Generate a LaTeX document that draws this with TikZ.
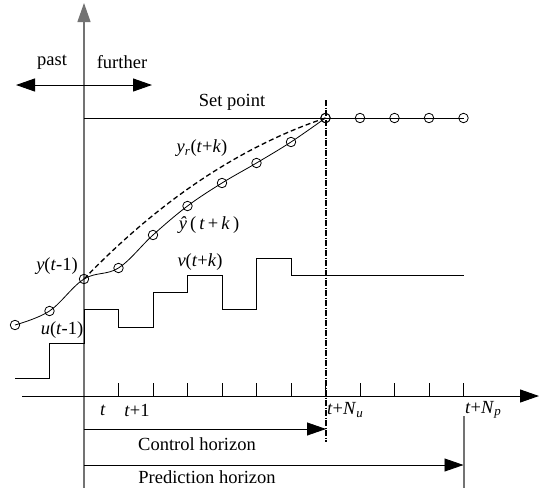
\documentclass[tikz,border=0pt]{standalone}
\usepackage{fontspec}
\setmainfont{Liberation Serif}
\usetikzlibrary{arrows.meta}
\begin{document}
\begin{tikzpicture}[x=1pt,y=-1pt,
  big/.style={-{Triangle[length=19pt,width=13pt]}},
  bigboth/.style={{Triangle[length=19pt,width=13pt]}-{Triangle[length=19pt,width=13pt]}},
  ax/.style={line width=1pt},
  grayax/.style={line width=1.2pt, draw=black!55},
  lbl/.style={font=\fontsize{18.5}{22}\selectfont, inner sep=0pt},
  mk/.style={circle, draw, line width=0.8pt, minimum size=9.5pt, inner sep=0pt},
  thin/.style={line width=0.8pt},
  dashdot/.style={line width=1.5pt, dash pattern=on 6pt off 1.5pt on 1pt off 1.5pt},
]
\useasboundingbox (0,0) rectangle (539,488);
% axes
\coordinate (vtop) at (84,3);
\coordinate (vbot) at (84,488);
\coordinate (hl) at (22,396);
\coordinate (hr) at (539,396);
\draw[grayax,big] (vbot) -- (vtop);
\draw[ax,big] (hl) -- (hr);
\foreach \k in {1,...,11} \draw[thin] (84+34.5*\k,383) -- (84+34.5*\k,396);
% past / further
\coordinate (pl) at (16,85);
\coordinate (pr) at (152,85);
\draw[ax,bigboth] (pl) -- (pr);
\node[lbl] (past) at (52,62) {past};
\node[lbl] (further) at (122,62) {further};
% set point
\coordinate (sp0) at (84,118);
\coordinate (sp1) at (463.5,118);
\draw[thin] (sp0) -- (sp1);
\node[lbl] (setp) at (232,102) {Set point};
\foreach \i/\x in {1/325.5,2/360,3/394.5,4/429,5/463.5}
  \node[mk] (s\i) at (\x,118) {};
% control line
\coordinate (dd0) at (326,100);
\coordinate (dd1) at (326,442);
\draw[dashdot] (dd0) -- (dd1);
% reference trajectory
\coordinate (r0) at (84,279);
\coordinate (r1) at (325.5,118);
\draw[line width=1.3pt, dash pattern=on 5pt off 3pt] (r0) .. controls (161,199) and (242,146) .. (r1);
\node[lbl] (yr) at (202,148) {\textit{y}\textsubscript{\textit{r}}(\textit{t}+\textit{k})};
% predicted output
\foreach \i/\x/\y in {1/15/325,2/49.5/311,3/84/279,4/118.5/268,5/153/235,6/187.5/206,7/222/183,8/256.5/163,9/291/142,10/325.5/118}
  \coordinate (c\i) at (\x,\y);
\draw[thin] plot[smooth, tension=0.6] coordinates {(c1) (c2) (c3) (c4) (c5) (c6) (c7) (c8) (c9) (c10)};
\foreach \i in {1,...,10} \node[mk] (p\i) at (c\i) {};
\node[lbl] (yhat) at (209,225) {\textit{ŷ}\,(\,\textit{t}\,+\,\textit{k}\,)};
\node[lbl] (ytm) at (57,266) {\textit{y}(\textit{t}-1)};
% control signal
\draw[thin] (15,378) -- (49.5,378) -- (49.5,343) -- (84,343) -- (84,309) -- (118.5,309) -- (118.5,327)
  -- (153,327) -- (153,292) -- (187.5,292) -- (187.5,275) -- (222,275) -- (222,309) -- (256.5,309)
  -- (256.5,258) -- (291,258) -- (291,275) -- (463.5,275);
\node[lbl] (vtk) at (200,262) {\textit{v}(\textit{t}+\textit{k})};
\node[lbl] (utm) at (62,330) {\textit{u}(\textit{t}-1)};
% time labels
\node[lbl] (lt) at (103,410) {\textit{t}};
\node[lbl] (lt1) at (137,410) {\textit{t}+1};
\node[lbl,anchor=west] (ltnu) at (327,410) {\textit{t}+\textit{N}\textsubscript{\textit{u}}};
\node[lbl,anchor=west] (ltnp) at (465,410) {\textit{t}+\textit{N}\textsubscript{\textit{p}}};
% horizons
\coordinate (ch0) at (84,429);
\coordinate (ch1) at (326,429);
\draw[thin,big] (ch0) -- (ch1);
\node[lbl] (chl) at (197,444) {Control horizon};
\coordinate (ph0) at (84,465);
\coordinate (ph1) at (463.5,465);
\draw[thin,big] (ph0) -- (ph1);
\node[lbl] (phl) at (207,477) {Prediction horizon};
\coordinate (np0) at (464,416);
\coordinate (np1) at (464,488);
\draw[grayax] (np0) -- (np1);
\end{tikzpicture}
\end{document}
